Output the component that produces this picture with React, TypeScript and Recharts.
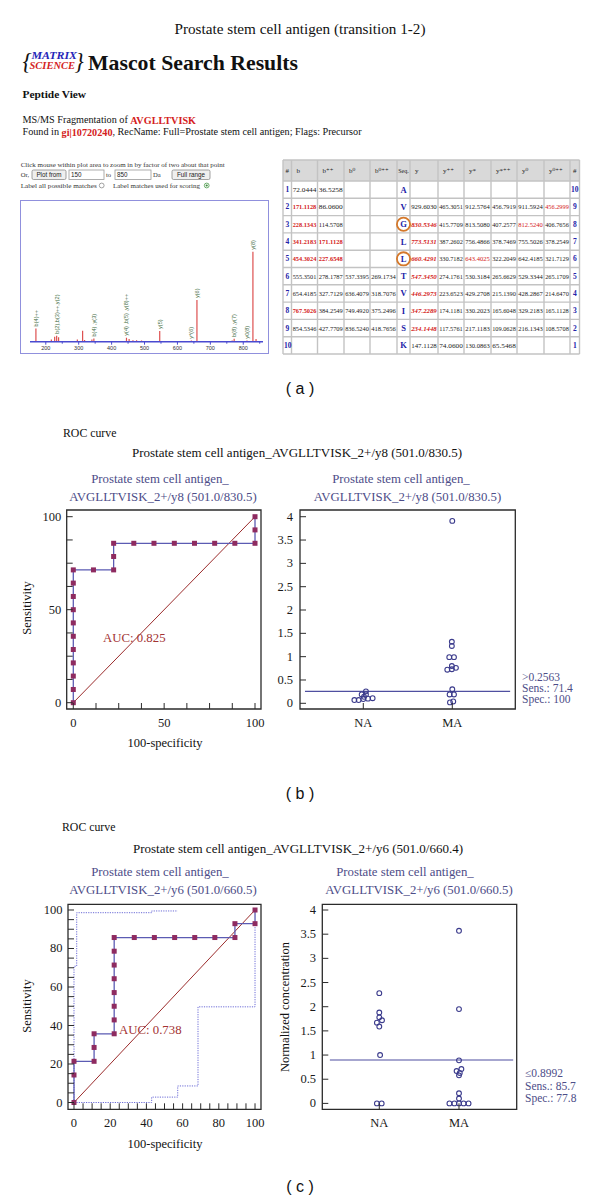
import React from 'react';
import {
  BarChart, Bar, XAxis, YAxis, LabelList, ComposedChart, Line,
  ReferenceArea, ReferenceLine, ScatterChart, Scatter,
} from 'recharts';

const SERIF = '"Liberation Serif", "DejaVu Serif", serif';
const SANS = '"Liberation Sans", "DejaVu Sans", sans-serif';

const SUBCOL = '#4d4d88';
const ROC_LINE = '#5b5bb3';
const SQ = '#8e2b60';
const DIAG = '#9b2c2c';
const AUC_COL = '#a33333';
const CI_COL = '#6b6bd6';
const DOT_COL = '#3b3b8c';
const FRAME = '#2b2b2b';

// ---------------- panel (a): spectrum ----------------
const specMz = [171.1, 218.0, 228.1, 234.1, 240.0, 297.0, 313.0, 319.0, 341.2, 347.2, 446.3, 454.3, 466.0, 477.0, 492.0, 547.3, 643.4, 660.4, 767.5, 773.5, 812.5, 830.5, 840.0];
const specInt = [14.8, 2.5, 5.6, 6.7, 5.0, 2.5, 12.2, 2.0, 2.5, 3.5, 4.4, 3.0, 1.5, 1.5, 1.2, 11.9, 1.2, 46.3, 1.2, 3.3, 1.2, 100, 3.0];
const specLab = ['b(4)++', '', '', 'b(2),b(3)++,y(2)', '', '', '', '', '', 'b(4) ,y(3)', 'y(4) ,b(5) ,y(8)++', '', '', '', '', 'y(5)', 'y*(6)', 'y(6)', '', 'b(8) ,y(7)', 'y0(8)', 'y(8)', ''];
const specTicks = [200, 250, 300, 350, 400, 450, 500, 550, 600, 650, 700, 750, 800, 850];
const specTickLabels = [200, 300, 400, 500, 600, 700, 800];

// ---------------- panel (a): fragment table ----------------
const tblHead = ['#', 'b', 'b⁺⁺', 'b⁰', 'b⁰⁺⁺', 'Seq.', 'y', 'y⁺⁺', 'y*', 'y*⁺⁺', 'y⁰', 'y⁰⁺⁺', '#'];
const tblNumL = ['1', '2', '3', '4', '5', '6', '7', '8', '9', '10'];
const tblB = ['72.0444', '*171.1128', '*228.1343', '*341.2183', '*454.3024', '555.3501', '654.4185', '*767.5026', '854.5346', ''];
const tblBpp = ['36.5258', '86.0600', '114.5708', '*171.1128', '*227.6548', '278.1787', '327.7129', '384.2549', '427.7709', ''];
const tblB0 = ['', '', '', '', '', '537.3395', '636.4079', '749.4920', '836.5240', ''];
const tblB0pp = ['', '', '', '', '', '269.1734', '318.7076', '375.2496', '418.7656', ''];
const tblSeq = ['A', 'V', 'G', 'L', 'L', 'T', 'V', 'I', 'S', 'K'];
const tblY = ['', '929.6030', '*830.5346', '*773.5131', '*660.4291', '*547.3450', '*446.2973', '*347.2289', '*234.1448', '147.1128'];
const tblYpp = ['', '465.3051', '415.7709', '387.2602', '330.7182', '274.1761', '223.6523', '174.1181', '117.5761', '74.0600'];
const tblYs = ['', '912.5764', '813.5080', '756.4866', '*643.4025', '530.3184', '429.2708', '330.2023', '217.1183', '130.0863'];
const tblYspp = ['', '456.7919', '407.2577', '378.7469', '322.2049', '265.6629', '215.1390', '165.6048', '109.0628', '65.5468'];
const tblY0 = ['', '911.5924', '*812.5240', '755.5026', '642.4185', '529.3344', '428.2867', '329.2183', '216.1343', ''];
const tblY0pp = ['', '*456.2999', '406.7656', '378.2549', '321.7129', '265.1709', '214.6470', '165.1128', '108.5708', ''];
const tblNumR = ['10', '9', '8', '7', '6', '5', '4', '3', '2', '1'];
const tblCircled = [2, 4];

// ---------------- panel (b) ----------------
const rocBx = [0, 0, 0, 0, 0, 0, 0, 0, 0, 0, 0, 11.1, 22.2, 22.2, 22.2, 33.3, 44.4, 55.6, 66.7, 77.8, 88.9, 100, 100, 100];
const rocBy = [0, 7.1, 14.3, 21.4, 28.6, 35.7, 42.9, 50, 57.1, 64.3, 71.4, 71.4, 71.4, 78.6, 85.7, 85.7, 85.7, 85.7, 85.7, 85.7, 85.7, 85.7, 92.9, 100];
const rocBTicks = [0, 12.5, 25, 37.5, 50, 62.5, 75, 87.5, 100];
const rocBLabeled = [0, 50, 100];

const naBVal = [0.256, 0.19, 0.19, 0.14, 0.07, 0.07, 0.09, 0.10, 0.11];
const naBOff = [0.03, -0.018, 0.03, 0.008, -0.10, -0.052, 0, 0.053, 0.105];
const maBVal = [3.91, 1.32, 1.23, 0.99, 0.99, 0.72, 0.80, 0.73, 0.76, 0.30, 0.19, 0.19, 0.02, 0.04];
const maBOff = [0, -0.005, -0.005, -0.034, 0.019, -0.056, -0.005, -0.005, 0.041, 0, -0.03, 0.019, -0.026, 0.011];
const thrB = 0.2563;

// ---------------- panel (c) ----------------
const rocCx = [0, 0, 0, 11.1, 11.1, 11.1, 22.2, 22.2, 22.2, 22.2, 22.2, 22.2, 22.2, 22.2, 33.3, 44.4, 55.6, 66.7, 77.8, 88.9, 88.9, 100, 100];
const rocCy = [0, 14.3, 21.4, 21.4, 28.6, 35.7, 35.7, 42.9, 50, 57.1, 64.3, 71.4, 78.6, 85.7, 85.7, 85.7, 85.7, 85.7, 85.7, 85.7, 92.9, 92.9, 100];
const ciUpX = [0, 0, 1.5, 1.5, 42.9, 42.9, 57.3];
const ciUpY = [0, 70.8, 70.8, 98.6, 98.6, 99.5, 99.5];
const ciLoX = [0, 42.9, 42.9, 57.3, 57.3, 68.5, 68.5, 100, 100];
const ciLoY = [0, 0, 2.8, 2.8, 8.6, 8.6, 49.7, 49.7, 92.5];
const rocCTicks = [0, 5, 10, 15, 20, 25, 30, 35, 40, 45, 50, 55, 60, 65, 70, 75, 80, 85, 90, 95, 100];
const rocCLabeled = [0, 20, 40, 60, 80, 100];

const naCVal = [2.28, 1.88, 1.78, 1.72, 1.67, 1.59, 1.0, 0, 0];
const naCOff = [0, 0, 0, 0.034, -0.03, 0, 0.01, -0.03, 0.03];
const maCVal = [3.57, 1.95, 0.89, 0.71, 0.67, 0.63, 0.58, 0.21, 0.10, 0, 0, 0, 0, 0];
const maCOff = [0, 0, 0, 0.03, -0.03, 0.01, 0, 0, 0, -0.12, -0.058, 0, 0.058, 0.12];
const thrC = 0.8992;

const dotTicks = [0, 0.5, 1, 1.5, 2, 2.5, 3, 3.5, 4];
const groupTicks = [1, 2];
const groupNames = ['NA', 'MA'];
const diagX = [0, 100];
const diagY = [0, 100];

const zip = (xs: number[], ys: number[]) => xs.map((x, i) => ({ x, y: ys[i] }));
const grp = (g: number, offs: number[], vals: number[]) => vals.map((v, i) => ({ x: g + offs[i], y: v }));

// ---------------- helpers ----------------
const T = ({ x, y, s = 12, c = '#111', a = 'start', w, it, f = SERIF, r, tl, children }: any) => (
  <text
    x={x} y={y} fontSize={s} fill={c} textAnchor={a} fontWeight={w}
    fontStyle={it ? 'italic' : undefined} fontFamily={f} dominantBaseline="central"
    transform={r ? `rotate(${r} ${x} ${y})` : undefined}
    textLength={tl} lengthAdjust={tl ? 'spacingAndGlyphs' : undefined}
  >{children}</text>
);

function XTick(p: any) {
  const { x, payload, ay, gap, len, show, names, fs } = p;
  const v = payload.value;
  let lab: string | null = null;
  if (names) lab = names[groupTicks.indexOf(v)] ?? null;
  else if (show.some((s: number) => Math.abs(s - v) < 1e-6)) lab = String(v);
  return (
    <g>
      <line x1={x} x2={x} y1={ay} y2={ay - len} stroke={FRAME} strokeWidth={1} />
      {lab != null && (
        <text x={x} y={ay + gap} textAnchor="middle" dominantBaseline="central" fontFamily={SERIF} fontSize={fs} fill="#1a1a1a">{lab}</text>
      )}
    </g>
  );
}

function YTick(p: any) {
  const { y, payload, ax, gap, len, show, fs } = p;
  const v = payload.value;
  const lab = show === 'all' || show.some((s: number) => Math.abs(s - v) < 1e-6) ? String(v) : null;
  return (
    <g>
      <line x1={ax} x2={ax + len} y1={y} y2={y} stroke={FRAME} strokeWidth={1} />
      {lab != null && (
        <text x={ax - gap} y={y} textAnchor="end" dominantBaseline="central" fontFamily={SERIF} fontSize={fs} fill="#1a1a1a">{lab}</text>
      )}
    </g>
  );
}

function Sq(p: any) {
  const { cx, cy } = p;
  if (cx == null || cy == null) return null;
  return <rect x={cx - 2.5} y={cy - 2.5} width={5} height={5} fill={SQ} />;
}

function Ring(p: any) {
  const { cx, cy } = p;
  return <circle cx={cx} cy={cy} r={2.4} fill="none" stroke={DOT_COL} strokeWidth={1.1} />;
}

function SpecTick(p: any) {
  const { x, payload, ay } = p;
  const v = payload.value;
  const major = specTickLabels.includes(v);
  return (
    <g>
      <line x1={x} x2={x} y1={ay} y2={ay + (major ? 3 : 2)} stroke="#4a4ad0" strokeWidth={1} />
      {major && (
        <text x={x} y={ay + 6.5} textAnchor="middle" dominantBaseline="central" fontFamily={SANS} fontSize={5.5} fill="#333">{v}</text>
      )}
    </g>
  );
}

const renderSpecLabel = (p: any) => {
  const { x, y, width, value, index } = p;
  if (!value) return null;
  const cx = Number(x) + Number(width) / 2 + 1.9;
  const ty = Number(y) - 2;
  return (
    <text key={`sl${index}`} x={cx} y={ty} transform={`rotate(-90 ${cx} ${ty})`} fontSize={5.6} fill="#3d6a3d" fontFamily={SANS}>{value}</text>
  );
};

// ---------------- components ----------------
function Spectrum() {
  const data = specMz.map((mz, i) => ({ mz, i: specInt[i], lab: specLab[i] }));
  return (
    <>
      <div style={{ position: 'absolute', left: 20, top: 199.5, width: 248.5, height: 154, border: '1.5px solid #9090dd', boxSizing: 'border-box' }} />
      <div style={{ position: 'absolute', left: 21, top: 201 }}>
        <BarChart width={246} height={151} data={data} margin={{ top: 10, right: 4, left: 9, bottom: 0 }}>
          <XAxis type="number" dataKey="mz" domain={[152, 860]} allowDataOverflow ticks={specTicks} interval={0}
            height={10.3} axisLine={{ stroke: '#4a4ad0', strokeWidth: 1.4 }} tickLine={false} tickSize={0}
            tick={<SpecTick ay={140.7} />} />
          <YAxis hide type="number" domain={[0, 145.2]} allowDataOverflow />
          <Bar dataKey="i" fill="#dd4f4f" barSize={1.2} isAnimationActive={false}>
            <LabelList dataKey="lab" content={renderSpecLabel} />
          </Bar>
        </BarChart>
      </div>
    </>
  );
}

function RocChart(props: any) {
  const { left, top, W, H, pl, pr, pt, pb, xd, yd, xTicks, xLab, yTicks, yLab, roc, ci } = props;
  const diag = zip(diagX, diagY);
  return (
    <div style={{ position: 'absolute', left, top }}>
      <ComposedChart width={W} height={H} margin={{ top: pt, right: W - pr, left: 0, bottom: 0 }}>
        <XAxis type="number" dataKey="x" domain={xd} allowDataOverflow ticks={xTicks} interval={0}
          height={H - pb} axisLine={false} tickLine={false} tickSize={0}
          tick={<XTick ay={pb} gap={13.7} len={6} show={xLab} fs={12.5} />} />
        <YAxis type="number" domain={yd} allowDataOverflow ticks={yTicks} interval={0}
          width={pl} axisLine={false} tickLine={false} tickSize={0}
          tick={<YTick ax={pl} gap={5.5} len={6} show={yLab} fs={12.5} />} />
        <ReferenceArea x1={xd[0]} x2={xd[1]} y1={yd[0]} y2={yd[1]} fill="none" fillOpacity={0}
          stroke={FRAME} strokeWidth={1.3} ifOverflow="visible" />
        <Line data={diag} dataKey="y" stroke={DIAG} strokeWidth={1} dot={false} isAnimationActive={false} />
        {ci && ci.map((c: any, k: number) => (
          <Line key={k} data={c} dataKey="y" stroke={CI_COL} strokeWidth={1} strokeDasharray="1.2 1.2"
            dot={false} isAnimationActive={false} />
        ))}
        <Line data={roc} dataKey="y" stroke={ROC_LINE} strokeWidth={1.3} dot={<Sq />} isAnimationActive={false} />
      </ComposedChart>
    </div>
  );
}

function DotPlot(props: any) {
  const { left, top, W, H, pl, pr, pt, pb, xd, yd, na, ma, thr, seg, ygap } = props;
  return (
    <div style={{ position: 'absolute', left, top }}>
      <ScatterChart width={W} height={H} margin={{ top: pt, right: W - pr, left: 0, bottom: 0 }}>
        <XAxis type="number" dataKey="x" domain={xd} allowDataOverflow ticks={groupTicks} interval={0}
          height={H - pb} axisLine={false} tickLine={false} tickSize={0}
          tick={<XTick ay={pb} gap={13.7} len={6} names={groupNames} fs={12.5} />} />
        <YAxis type="number" dataKey="y" domain={yd} allowDataOverflow ticks={dotTicks} interval={0}
          width={pl} axisLine={false} tickLine={false} tickSize={0}
          tick={<YTick ax={pl} gap={ygap} len={6} show="all" fs={12.5} />} />
        <ReferenceArea x1={xd[0]} x2={xd[1]} y1={yd[0]} y2={yd[1]} fill="none" fillOpacity={0}
          stroke={FRAME} strokeWidth={1.3} ifOverflow="visible" />
        <ReferenceLine segment={[{ x: seg[0], y: thr }, { x: seg[1], y: thr }]} stroke="#4f4fa0" strokeWidth={1.1} ifOverflow="visible" />
        <Scatter data={na} shape={<Ring />} isAnimationActive={false} />
        <Scatter data={ma} shape={<Ring />} isAnimationActive={false} />
      </ScatterChart>
    </div>
  );
}

function TableA() {
  const colX = [283, 291.5, 317.5, 344, 370, 397, 410, 438, 464, 491, 517, 544, 570, 579.5];
  const top = 160;
  const headH = 21;
  const rowH = 17.3;
  const cols = [tblNumL, tblB, tblBpp, tblB0, tblB0pp, tblSeq, tblY, tblYpp, tblYs, tblYspp, tblY0, tblY0pp, tblNumR];
  const bottom = top + headH + rowH * 10;
  const els: any[] = [];
  els.push(<rect key="hd" x={colX[0]} y={top} width={colX[13] - colX[0]} height={headH} fill="#d9d9d9" />);
  for (let i = 0; i < colX.length; i++) {
    els.push(<line key={`vc${i}`} x1={colX[i]} x2={colX[i]} y1={top} y2={bottom} stroke="#c3c3c3" strokeWidth={1.4} />);
  }
  for (let r = 0; r <= 11; r++) {
    const yy = r === 0 ? top : top + headH + rowH * (r - 1);
    els.push(<line key={`hr${r}`} x1={colX[0]} x2={colX[13]} y1={yy} y2={yy} stroke="#c3c3c3" strokeWidth={1.4} />);
  }
  tblHead.forEach((h, c) => {
    const cx = (colX[c] + colX[c + 1]) / 2;
    const centered = c === 0 || c === 12 || c === 5;
    els.push(<text key={`h${c}`} x={centered ? cx : colX[c] + 5} y={top + headH / 2} fontSize={c === 5 ? 6 : 7} fontFamily={SERIF}
      fill="#222" textAnchor={centered ? 'middle' : 'start'} dominantBaseline="central">{h}</text>);
  });
  for (let r = 0; r < 10; r++) {
    const cy = top + headH + rowH * r + rowH / 2;
    cols.forEach((col, c) => {
      let s = col[r];
      if (!s) return;
      const red = s.startsWith('*');
      if (red) s = s.slice(1);
      const isNum = c === 0 || c === 12;
      const isSeq = c === 5;
      const cx = (colX[c] + colX[c + 1]) / 2;
      if (isNum || isSeq) {
        els.push(<text key={`c${r}-${c}`} x={isNum && s.length > 1 ? colX[c] + 1 : cx} y={cy} fontSize={isSeq ? 8.5 : 7.5}
          fontWeight="bold" fontFamily={SERIF} fill="#2323a8" textAnchor={isNum && s.length > 1 ? 'start' : 'middle'}
          dominantBaseline="central">{s}</text>);
      } else {
        const bold = red && (c === 1 || c === 2 || c === 6);
        const ital = red && c === 6;
        els.push(<text key={`c${r}-${c}`} x={colX[c] + 1.2} y={cy} fontSize={6.6} fontFamily={SERIF}
          fontWeight={bold ? 'bold' : undefined} fontStyle={ital ? 'italic' : undefined}
          fill={red ? '#d42020' : '#222'} dominantBaseline="central"
          textLength={colX[c + 1] - colX[c] - 2.4} lengthAdjust="spacingAndGlyphs">{s}</text>);
      }
    });
  }
  tblCircled.forEach((r) => {
    const cy = top + headH + rowH * r + rowH / 2;
    els.push(<circle key={`o${r}`} cx={(colX[5] + colX[6]) / 2} cy={cy} r={6.6} fill="none" stroke="#d5782a" strokeWidth={1.8} />);
  });
  return <g>{els}</g>;
}

function Button({ x, y, w, h, label }: any) {
  return (
    <g>
      <rect x={x} y={y} width={w} height={h} rx={1.5} fill="#efefef" stroke="#8a8a8a" strokeWidth={0.8} />
      <text x={x + w / 2} y={y + h / 2} fontSize={6.3} fontFamily={SANS} fill="#222" textAnchor="middle" dominantBaseline="central">{label}</text>
    </g>
  );
}
function Input({ x, y, w, h, label }: any) {
  return (
    <g>
      <rect x={x} y={y} width={w} height={h} fill="#fff" stroke="#9a9a9a" strokeWidth={0.8} />
      <text x={x + 2} y={y + h / 2} fontSize={6.3} fontFamily={SANS} fill="#222" dominantBaseline="central">{label}</text>
    </g>
  );
}

function TextLayer() {
  return (
    <svg width={600} height={1201} style={{ position: 'absolute', left: 0, top: 0 }}>
      <T x={300} y={28} s={15.2} a="middle">Prostate stem cell antigen (transition 1-2)</T>
      <T x={22.5} y={61} s={23} it>{'{'}</T>
      <T x={31.5} y={55.5} s={10.5} w="bold" it c="#2626b8" tl={45.5}>MATRIX</T>
      <T x={29.5} y={65.5} s={10} w="bold" it c="#d42323" tl={45.5}>SCIENCE</T>
      <T x={74.5} y={61} s={23} it>{'}'}</T>
      <T x={88} y={62} s={22} w="bold" tl={210}>Mascot Search Results</T>
      <T x={22.5} y={94} s={11.4} w="bold">Peptide View</T>
      <T x={22.5} y={119.5} s={10.2}>MS/MS Fragmentation of <tspan fill="#d42020" fontWeight="bold">AVGLLTVISK</tspan></T>
      <T x={22.5} y={131.5} s={10.2}>Found in <tspan fill="#d42020" fontWeight="bold">gi|10720240</tspan>, RecName: Full=Prostate stem cell antigen; Flags: Precursor</T>
      <T x={20.7} y={164.7} s={6.6} f={SERIF} c="#333" tl={204}>Click mouse within plot area to zoom in by factor of two about that point</T>
      <T x={20.7} y={174.5} s={6.6} c="#333">Or,</T>
      <Button x={32} y={170} w={34} h={9.5} label="Plot from" />
      <Input x={69} y={170} w={35} h={9.5} label="150" />
      <T x={106} y={174.5} s={6.6} c="#333">to</T>
      <Input x={115} y={170} w={36} h={9.5} label="850" />
      <T x={153} y={174.5} s={6.6} c="#333">Da</T>
      <Button x={172} y={170} w={38} h={9.5} label="Full range" />
      <T x={20.7} y={185.5} s={6.6} c="#333" tl={76}>Label all possible matches</T>
      <circle cx={101.7} cy={185.5} r={2.4} fill="#fff" stroke="#8a8a8a" strokeWidth={0.8} />
      <T x={113} y={185.5} s={6.6} c="#333" tl={87}>Label matches used for scoring</T>
      <circle cx={206.7} cy={185.5} r={2.4} fill="#fff" stroke="#4a9a4a" strokeWidth={0.8} />
      <circle cx={206.7} cy={185.5} r={1.1} fill="#3a8a3a" />
      <TableA />
      <T x={300} y={388} s={16} a="middle" f={SANS}>( a )</T>

      <T x={63} y={433} s={11.8}>ROC curve</T>
      <T x={297} y={452} s={13} a="middle">Prostate stem cell antigen_AVGLLTVISK_2+/y8 (501.0/830.5)</T>
      <T x={160} y={478.5} s={12.8} a="middle" c={SUBCOL}>Prostate stem cell antigen_</T>
      <T x={163} y={497} s={12.8} a="middle" c={SUBCOL}>AVGLLTVISK_2+/y8 (501.0/830.5)</T>
      <T x={401} y={479} s={12.8} a="middle" c={SUBCOL}>Prostate stem cell antigen_</T>
      <T x={407.5} y={497} s={12.8} a="middle" c={SUBCOL}>AVGLLTVISK_2+/y8 (501.0/830.5)</T>
      <T x={27} y={608} s={12.5} a="middle" r={-90}>Sensitivity</T>
      <T x={165} y={743} s={12.5} a="middle">100-specificity</T>
      <T x={103} y={638} s={12.8} c={AUC_COL}>AUC: 0.825</T>
      <T x={522} y={677} s={11.5} c={SUBCOL}>{'>0.2563'}</T>
      <T x={522} y={688} s={11.5} c={SUBCOL}>Sens.: 71.4</T>
      <T x={522} y={699} s={11.5} c={SUBCOL}>Spec.: 100</T>
      <T x={300} y={793} s={16} a="middle" f={SANS}>( b )</T>

      <T x={62} y={827} s={11.8}>ROC curve</T>
      <T x={298} y={848} s={13} a="middle">Prostate stem cell antigen_AVGLLTVISK_2+/y6 (501.0/660.4)</T>
      <T x={160} y={872} s={12.8} a="middle" c={SUBCOL}>Prostate stem cell antigen_</T>
      <T x={163} y={890} s={12.8} a="middle" c={SUBCOL}>AVGLLTVISK_2+/y6 (501.0/660.5)</T>
      <T x={405} y={872} s={12.8} a="middle" c={SUBCOL}>Prostate stem cell antigen_</T>
      <T x={419} y={890} s={12.8} a="middle" c={SUBCOL}>AVGLLTVISK_2+/y6 (501.0/660.5)</T>
      <T x={27} y={1006} s={12.5} a="middle" r={-90}>Sensitivity</T>
      <T x={165} y={1144} s={12.5} a="middle">100-specificity</T>
      <T x={119} y={1030} s={12.8} c={AUC_COL}>AUC: 0.738</T>
      <T x={285} y={1007} s={12.5} a="middle" r={-90}>Normalized concentration</T>
      <T x={525} y={1073} s={11.5} c={SUBCOL}>{'≤0.8992'}</T>
      <T x={525} y={1086} s={11.5} c={SUBCOL}>Sens.: 85.7</T>
      <T x={525} y={1098} s={11.5} c={SUBCOL}>Spec.: 77.8</T>
      <T x={300} y={1186} s={16} a="middle" f={SANS}>( c )</T>
    </svg>
  );
}

export default function App() {
  return (
    <div style={{ position: 'absolute', left: 0, top: 0, width: 600, height: 1201, background: '#fff', overflow: 'hidden', fontFamily: SERIF }}>
      <TextLayer />
      <Spectrum />
      <RocChart left={0} top={490} W={290} H={270} pl={66.7} pr={261} pt={20} pb={219}
        xd={[-3.63, 103.3]} yd={[-3.39, 103.6]} xTicks={rocBTicks} xLab={rocBLabeled}
        yTicks={rocBTicks} yLab={rocBLabeled} roc={zip(rocBx, rocBy)} />
      <DotPlot left={265} top={490} W={280} H={270} pl={35} pr={250.3} pt={20} pb={219}
        xd={[0.289, 2.708]} yd={[-0.122, 4.144]} na={grp(1, naBOff, naBVal)} ma={grp(2, maBOff, maBVal)}
        thr={thrB} seg={[0.345, 2.65]} ygap={7} />
      <RocChart left={0} top={884} W={290} H={270} pl={68} pr={261} pt={20.3} pb={225.3}
        xd={[-3.31, 103.3]} yd={[-3.53, 102.96]} xTicks={rocCTicks} xLab={rocCLabeled}
        yTicks={rocCTicks} yLab={rocCLabeled} roc={zip(rocCx, rocCy)}
        ci={[zip(ciUpX, ciUpY), zip(ciLoX, ciLoY)]} />
      <DotPlot left={265} top={884} W={280} H={270} pl={57.3} pr={251.7} pt={20.3} pb={225.3}
        xd={[0.285, 2.724]} yd={[-0.122, 4.118]} na={grp(1, naCOff, naCVal)} ma={grp(2, maCOff, maCVal)}
        thr={thrC} seg={[0.38, 2.68]} ygap={6.3} />
    </div>
  );
}
